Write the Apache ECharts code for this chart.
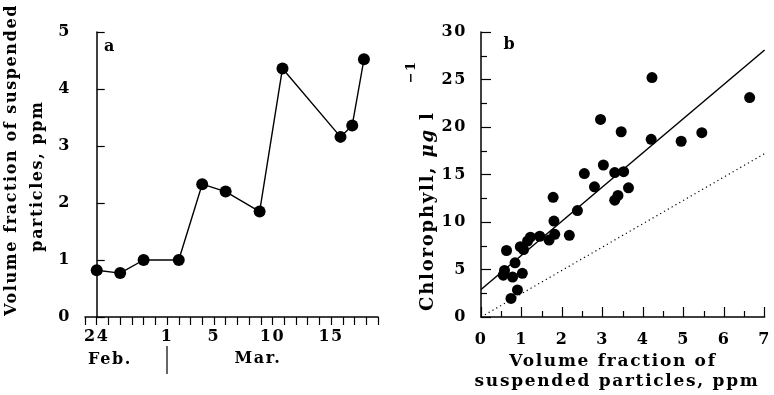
<!DOCTYPE html>
<html><head><meta charset="utf-8">
<script src="https://cdn.jsdelivr.net/npm/echarts@6/dist/echarts.min.js"></script>
<style>html,body{margin:0;padding:0;background:#fff}#c{width:774px;height:395px}</style>
</head><body><div id="c"></div>
<script>
// Panel a: x = days since Feb 24 (leap year, so Mar 1 = day 6)
const dayTickValues = [0, 6, 10, 15, 20];
const dayTickLabels = ['24', '1', '5', '10', '15'];
const aDays = [0, 2, 4, 7, 9, 11, 13.9, 15.85, 20.8, 21.8, 22.8];
const aVolume = [0.82, 0.77, 1.0, 1.0, 2.33, 2.2, 1.85, 4.36, 3.16, 3.36, 4.52];

// Panel b: chlorophyll vs volume fraction
const bVolume = [0.55, 0.58, 0.63, 0.74, 0.78, 0.84, 0.90, 1.02, 0.97, 1.05, 1.15, 1.22, 1.45, 1.68, 1.82, 1.80, 1.78, 2.18, 2.38, 2.55, 2.80, 2.95, 3.02, 3.30, 3.38, 3.30, 3.52, 3.46, 3.64, 4.20, 4.22, 4.94, 5.45, 6.63];
const bChl    = [4.4, 4.9, 7.0, 1.95, 4.2, 5.7, 2.85, 4.6, 7.4, 7.1, 8.0, 8.4, 8.5, 8.1, 8.7, 10.1, 12.6, 8.6, 11.2, 15.1, 13.7, 20.8, 16.0, 12.3, 12.8, 15.2, 15.3, 19.5, 13.6, 18.7, 25.2, 18.5, 19.4, 23.1];
const fitLine = [[0, 2.9], [7, 28.1]];
const refLine = [[0, 0], [7, 17.2]];

// wide letter tracking like the original typesetting
(function () {
  const P = CanvasRenderingContext2D.prototype;
  function sp(ctx) {
    const m = /(\d+(?:\.\d+)?)px/.exec(ctx.font);
    const s = m ? parseFloat(m[1]) : 12;
    try { ctx.letterSpacing = (s * 0.1).toFixed(2) + 'px'; } catch (e) {}
  }
  ['fillText', 'strokeText', 'measureText'].forEach(function (n) {
    const o = P[n];
    P[n] = function () { sp(this); return o.apply(this, arguments); };
  });
})();

const F = 'DejaVu Serif';
const lab = {fontFamily: F, fontWeight: 'bold', fontSize: 16, color: '#000'};
const axLine = {show: true, lineStyle: {color: '#000', width: 1.5}};

const chart = echarts.init(document.getElementById('c'), null, {renderer: 'canvas'});
const aData = aDays.map((d, i) => [d, aVolume[i]]);
const bData = bVolume.map((v, i) => [v, bChl[i]]);

chart.setOption({
  animation: false,
  backgroundColor: '#fff',
  grid: [
    {left: 85, top: 32, width: 293, height: 285},
    {left: 481, top: 32, width: 291, height: 285}
  ],
  xAxis: [
    {gridIndex: 0, type: 'value', min: -1, max: 24, interval: 1,
     axisLine: axLine, splitLine: {show: false},
     axisTick: {show: true, inside: false, length: 8, lineStyle: {color: '#000', width: 1.2}},
     axisLabel: Object.assign({margin: 11, showMinLabel: true, showMaxLabel: true,
       formatter: v => { const k = dayTickValues.indexOf(Math.round(v)); return (k >= 0 && Math.abs(v - Math.round(v)) < 1e-6) ? dayTickLabels[k] : ''; }}, lab)},
    {gridIndex: 1, type: 'value', min: 0, max: 7, interval: 1,
     axisLine: axLine, splitLine: {show: false},
     axisTick: {show: true, inside: true, length: 10, lineStyle: {color: '#000', width: 1.2}},
     minorTick: {show: true, splitNumber: 2, length: 6, lineStyle: {color: '#000', width: 1.2}},
     axisLabel: Object.assign({margin: 14}, lab)}
  ],
  yAxis: [
    {gridIndex: 0, type: 'value', min: 0, max: 5, interval: 1,
     axisLine: axLine, splitLine: {show: false},
     axisTick: {show: true, inside: true, length: 8, lineStyle: {color: '#000', width: 1.2}},
     axisLabel: Object.assign({margin: 14}, lab)},
    {gridIndex: 1, type: 'value', min: 0, max: 30, interval: 5,
     axisLine: axLine, splitLine: {show: false},
     axisTick: {show: true, inside: true, length: 10, lineStyle: {color: '#000', width: 1.2}},
     minorTick: {show: true, splitNumber: 2, length: 6, lineStyle: {color: '#000', width: 1.2}},
     axisLabel: Object.assign({margin: 14}, lab)}
  ],
  series: [
    {type: 'line', xAxisIndex: 0, yAxisIndex: 0, data: aData, symbol: 'circle', symbolSize: 12,
     itemStyle: {color: '#000', opacity: 1}, lineStyle: {color: '#000', width: 1.4}},
    {type: 'line', xAxisIndex: 1, yAxisIndex: 1, data: refLine, symbol: 'none',
     lineStyle: {color: '#000', width: 1.2, type: [1.2, 3.2]}},
    {type: 'line', xAxisIndex: 1, yAxisIndex: 1, data: fitLine, symbol: 'none',
     lineStyle: {color: '#000', width: 1.5}},
    {type: 'scatter', xAxisIndex: 1, yAxisIndex: 1, data: bData, symbol: 'circle', symbolSize: 11,
     itemStyle: {color: '#000', opacity: 1}}
  ],
  graphic: [
    {type: 'text', x: 110, y: 47, style: {text: 'a', font: 'bold 16px "DejaVu Serif"', fill: '#000', textAlign: 'center', textVerticalAlign: 'middle'}},
    {type: 'text', x: 510, y: 45, style: {text: 'b', font: 'bold 16px "DejaVu Serif"', fill: '#000', textAlign: 'center', textVerticalAlign: 'middle'}},
    {type: 'text', x: 12, y: 160, rotation: Math.PI / 2, style: {text: 'Volume fraction of suspended', font: 'bold 16px "DejaVu Serif"', fill: '#000', textAlign: 'center', textVerticalAlign: 'middle'}},
    {type: 'text', x: 38, y: 176, rotation: Math.PI / 2, style: {text: 'particles, ppm', font: 'bold 16px "DejaVu Serif"', fill: '#000', textAlign: 'center', textVerticalAlign: 'middle'}},
    {type: 'text', x: 110, y: 360, style: {text: 'Feb.', font: 'bold 16px "DejaVu Serif"', fill: '#000', textAlign: 'center', textVerticalAlign: 'middle'}},
    {type: 'text', x: 258, y: 359, style: {text: 'Mar.', font: 'bold 16px "DejaVu Serif"', fill: '#000', textAlign: 'center', textVerticalAlign: 'middle'}},
    {type: 'line', shape: {x1: 167, y1: 346, x2: 167, y2: 374}, style: {stroke: '#000', lineWidth: 1.2}},
    {type: 'text', x: 428, y: 311, rotation: Math.PI / 2, style: {
      text: '{n|Chlorophyll, }{i|μg}{n| l}', textAlign: 'left', textVerticalAlign: 'middle',
      rich: {n: {fontFamily: F, fontWeight: 'bold', fontSize: 18, fill: '#000'}, i: {fontFamily: F, fontWeight: 'bold', fontStyle: 'italic', fontSize: 18, fill: '#000'}}}},
    {type: 'text', x: 412, y: 72, rotation: Math.PI / 2, style: {text: '−1', font: 'bold 13px "DejaVu Serif"', fill: '#000', textAlign: 'center', textVerticalAlign: 'middle'}},
    {type: 'text', x: 613, y: 362, style: {text: 'Volume fraction of', font: 'bold 17px "DejaVu Serif"', fill: '#000', textAlign: 'center', textVerticalAlign: 'middle'}},
    {type: 'text', x: 617, y: 382, style: {text: 'suspended particles, ppm', font: 'bold 17px "DejaVu Serif"', fill: '#000', textAlign: 'center', textVerticalAlign: 'middle'}}
  ]
});
</script></body></html>
